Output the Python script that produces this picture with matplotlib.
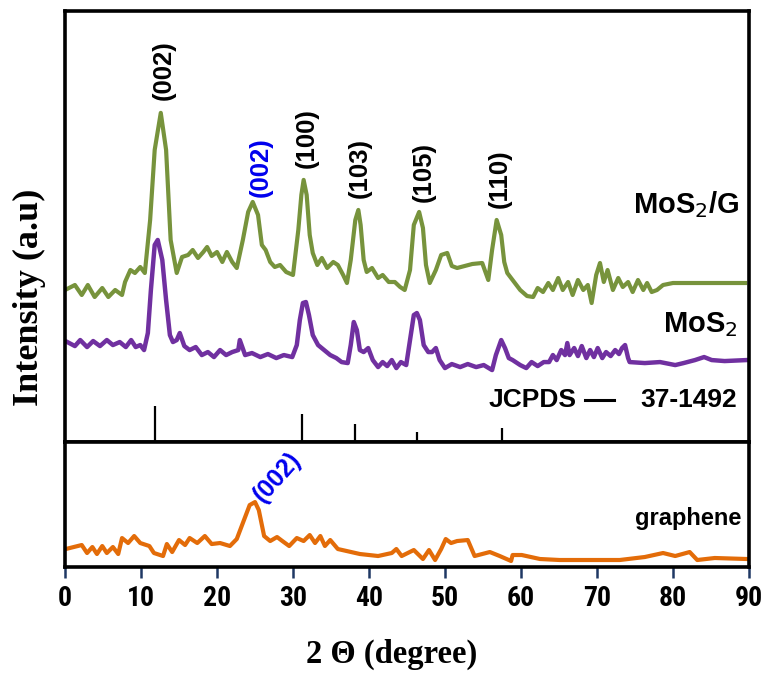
import matplotlib
matplotlib.use("Agg")
import matplotlib.pyplot as plt
import numpy as np
from matplotlib import font_manager

# --- data: (2theta in degrees, intensity in a.u.) ---
mos2g = [(0.0, 152), (1.3, 157), (2.2, 147), (3.0, 157), (3.9, 145), (4.9, 154), (5.7, 145),
         (6.6, 152), (7.5, 147), (7.9, 160), (8.6, 172), (9.2, 169), (9.9, 175), (10.5, 169),
         (11.2, 222), (11.8, 292), (12.6, 329), (13.3, 292), (13.9, 202), (14.7, 169),
         (15.4, 185), (16.2, 187), (16.8, 192), (17.5, 184), (18.2, 190), (18.7, 195),
         (19.3, 186), (20.0, 190), (20.7, 180), (21.3, 190), (22.0, 180), (22.6, 174),
         (23.4, 202), (24.1, 230), (24.7, 240), (25.4, 227), (25.9, 197), (26.4, 192),
         (27.0, 180), (27.6, 175), (28.3, 177), (29.1, 170), (30.0, 167), (30.7, 212),
         (31.1, 247), (31.4, 262), (31.8, 247), (32.2, 207), (32.6, 189), (33.2, 177),
         (33.8, 184), (34.5, 174), (35.3, 180), (35.9, 177), (36.6, 167), (37.1, 159),
         (37.6, 182), (38.2, 222), (38.6, 232), (38.9, 217), (39.3, 182), (39.7, 170),
         (40.4, 174), (41.2, 164), (41.8, 167), (42.6, 160), (43.4, 160), (44.1, 155),
         (44.7, 152), (45.4, 172), (45.9, 217), (46.6, 230), (47.1, 214), (47.5, 177),
         (48.0, 159), (48.8, 172), (49.5, 187), (50.3, 189), (50.9, 176), (51.6, 174),
         (52.6, 176), (53.6, 178), (54.9, 179), (55.7, 162), (56.2, 192), (56.8, 222),
         (57.4, 207), (57.8, 180), (58.2, 169), (58.9, 162), (59.9, 152), (60.8, 146),
         (61.6, 145), (62.2, 154), (62.9, 150), (63.6, 159), (64.2, 152), (64.9, 164),
         (65.5, 152), (66.2, 160), (66.8, 147), (67.5, 162), (68.2, 152), (68.8, 157),
         (69.3, 139), (69.9, 167), (70.4, 179), (70.9, 160), (71.4, 172), (72.1, 152),
         (72.8, 164), (73.4, 155), (74.1, 160), (74.7, 150), (75.4, 162), (76.1, 152),
         (76.6, 159), (77.2, 150), (77.9, 152), (78.7, 157), (80.0, 159), (82.2, 159),
         (89.5, 159)]

mos2 = [(0.3, 100), (1.3, 96), (2.0, 102), (2.9, 95), (3.7, 101), (4.6, 96), (5.5, 102),
        (6.3, 97), (7.2, 100), (8.0, 95), (8.7, 102), (9.3, 95), (9.9, 97), (10.4, 92),
        (10.9, 109), (11.3, 152), (11.8, 197), (12.2, 202), (12.8, 182), (13.3, 142),
        (13.8, 107), (14.2, 100), (14.7, 102), (15.1, 109), (15.7, 96), (16.4, 92),
        (17.2, 95), (18.0, 87), (18.8, 90), (19.6, 85), (20.4, 92), (21.2, 87), (22.0, 90),
        (22.8, 92), (23.0, 102), (23.7, 87), (24.6, 89), (25.7, 85), (26.7, 88), (27.8, 84),
        (28.8, 87), (29.9, 85), (30.5, 97), (30.9, 122), (31.3, 139), (31.7, 140),
        (32.1, 127), (32.6, 107), (33.3, 97), (34.1, 92), (34.9, 87), (35.7, 84), (36.4, 80),
        (37.2, 79), (37.6, 97), (38.0, 120), (38.4, 112), (38.8, 92), (39.3, 90), (39.9, 94),
        (40.5, 82), (41.2, 75), (41.8, 80), (42.4, 76), (43.0, 82), (43.6, 74), (44.2, 80),
        (44.9, 77), (45.4, 102), (45.9, 127), (46.3, 129), (46.7, 122), (47.2, 97),
        (47.8, 90), (48.3, 90), (48.8, 94), (49.3, 82), (50.0, 74), (50.9, 78), (52.0, 75),
        (53.0, 78), (54.1, 75), (55.1, 77), (56.2, 72), (56.7, 87), (57.4, 102), (57.9, 94),
        (58.4, 84), (58.9, 82), (59.9, 77), (60.7, 74), (61.4, 80), (62.2, 76), (63.0, 80),
        (63.7, 80), (64.2, 87), (64.7, 82), (65.3, 92), (65.8, 87), (66.1, 99), (66.4, 87),
        (67.0, 94), (67.5, 86), (68.0, 96), (68.6, 84), (69.1, 92), (69.6, 85), (70.1, 94),
        (70.7, 84), (71.2, 90), (71.8, 86), (72.4, 92), (72.9, 88), (73.3, 94), (73.7, 97),
        (74.1, 84), (74.3, 80), (76.3, 79), (78.3, 80), (80.3, 77), (81.4, 79), (82.9, 82),
        (84.1, 85), (85.1, 82), (86.8, 81), (89.7, 82)]

graphene = [(0.1, 18), (2.2, 22), (2.9, 14), (3.6, 20), (4.2, 13), (4.9, 21), (5.5, 14),
            (6.3, 20), (7.0, 13), (7.5, 29), (8.3, 24), (9.1, 31), (9.9, 24), (11.1, 21),
            (11.7, 14), (12.9, 11), (13.4, 23), (14.1, 15), (15.0, 27), (15.8, 22),
            (16.4, 29), (17.4, 24), (18.4, 31), (19.3, 23), (20.4, 24), (21.7, 21),
            (22.6, 28), (23.6, 48), (24.3, 62), (25.0, 65), (25.5, 57), (26.2, 31),
            (27.0, 26), (27.9, 30), (28.6, 26), (29.5, 21), (30.5, 29), (31.4, 26),
            (32.2, 32), (32.9, 24), (33.6, 31), (34.2, 21), (34.9, 27), (35.9, 18),
            (38.8, 13), (41.2, 11), (43.0, 14), (43.6, 18), (44.3, 11), (45.9, 17),
            (47.1, 8), (47.9, 17), (48.7, 7), (49.5, 18), (50.1, 28), (50.8, 24),
            (51.6, 26), (53.0, 27), (53.9, 11), (55.9, 15), (57.2, 11), (58.7, 6),
            (58.9, 12), (60.1, 12), (62.5, 8), (65.1, 7), (73.0, 7), (76.3, 10),
            (78.7, 14), (80.3, 11), (82.2, 15), (83.2, 7), (85.5, 9), (89.7, 8)]

jcpds_tt = [11.8, 31.2, 38.2, 46.3, 57.5]
jcpds_int = [36, 28, 18, 10, 14]

hkl_labels = ["(002)", "(002)", "(100)", "(103)", "(105)", "(110)"]
hkl_tt = [13.0, 25.7, 31.8, 38.8, 47.2, 57.2]
hkl_int = [342, 245, 274, 244, 240, 234]
hkl_colors = ["black", "#0000EE", "black", "black", "black", "black"]

GREEN = "#77933C"
PURPLE = "#7030A0"
ORANGE = "#E36C09"

names = {f.name for f in font_manager.fontManager.ttflist}
narrow, tick_size = "Liberation Sans", 18
for fam, size in [("Liberation Sans Narrow", 21), ("Roboto Condensed", 20),
                  ("DejaVu Sans Condensed", 18)]:
    if fam in names:
        narrow, tick_size = fam, size
        break
sans = "Liberation Sans"
serif = "Liberation Serif"

fig = plt.figure(figsize=(7.65, 6.75), dpi=100)
ax1 = fig.add_axes([0.085, 0.345, 0.894, 0.639])
ax2 = fig.add_axes([0.085, 0.160, 0.894, 0.185])

x, y = zip(*mos2g)
ax1.plot(x, y, color=GREEN, lw=3.0, solid_joinstyle="round")
x, y = zip(*mos2)
ax1.plot(x, y, color=PURPLE, lw=3.2, solid_joinstyle="round")
ax1.vlines(jcpds_tt, 0, jcpds_int, color="black", lw=1.6)
ax1.set_xlim(0, 90)
ax1.set_ylim(0, 431)
ax1.set_xticks([])
ax1.set_yticks([])

for lab, xx, yy, c in zip(hkl_labels, hkl_tt, hkl_int, hkl_colors):
    ax1.text(xx, yy, lab, rotation=90, ha="center", va="bottom", color=c,
             fontsize=18.5, fontweight="bold", family=sans)

ax1.text(81.8, 237, "MoS$_2$/G", ha="center", va="center", fontsize=21,
         fontweight="bold", family=sans)
ax1.text(83.6, 117, "MoS$_2$", ha="center", va="center", fontsize=21,
         fontweight="bold", family=sans)
ax1.text(55.7, 42, "JCPDS", ha="left", va="center", fontsize=19,
         fontweight="bold", family=sans)
ax1.plot([68.4, 72.2], [42, 42], color="black", lw=2.2)
ax1.text(88.4, 42, "37-1492", ha="right", va="center", fontsize=19,
         fontweight="bold", family=sans)

x, y = zip(*graphene)
ax2.plot(x, y, color=ORANGE, lw=3.0, solid_joinstyle="round")
ax2.set_xlim(0, 90)
ax2.set_ylim(0, 125)
ax2.set_yticks([])
ax2.set_xticks(np.arange(0, 91, 10))
ax2.tick_params(axis="x", direction="out", length=8, width=1.8, color="#1F3864", pad=5)
for t in ax2.get_xticklabels():
    t.set_fontfamily(narrow)
    t.set_fontsize(tick_size)
    t.set_fontweight("bold")
ax2.text(82.0, 49, "graphene", ha="center", va="center", fontsize=17,
         fontweight="bold", family=sans)
ax2.text(27.9, 90, "(002)", rotation=48, rotation_mode="anchor", ha="center", va="center",
         color="#0000EE", fontsize=18, fontweight="bold", family=sans)

for ax in (ax1, ax2):
    for sp in ax.spines.values():
        sp.set_linewidth(2.6)
        sp.set_color("black")

fig.text(0.039, 0.56, "Intensity (a.u)", rotation=90, ha="center", va="center",
         fontsize=26, fontweight="bold", family=serif)
fig.text(0.512, 0.030, "2 Θ (degree)", ha="center", va="center",
         fontsize=23.5, fontweight="bold", family=serif)

fig.savefig("out.png", dpi=100)
